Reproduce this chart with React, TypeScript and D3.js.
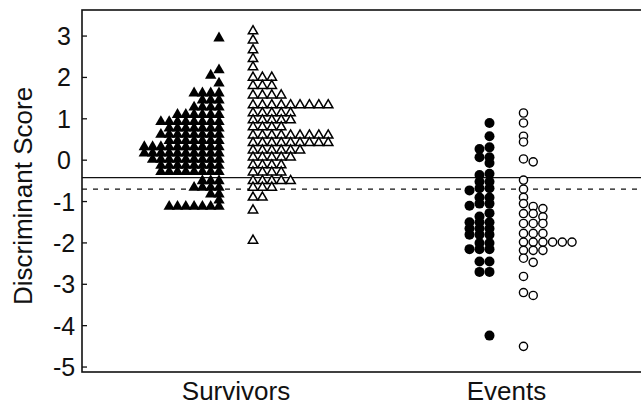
import React from "react";
import * as d3 from "d3";

const W = 641;
const H = 407;
const PLOT = { left: 82, right: 642, top: 10, bottom: 372 };

const categories = ["Survivors", "Events"];
const yTicks = [3, 2, 1, 0, -1, -2, -3, -4, -5];
const yDomain = [-5.12, 3.63];
const cutoffSolid = -0.42;
const cutoffDashed = -0.7;

// Survivors, filled triangles (stacked to the left)
const survivorsFilled = [
  2.95,
  2.18, 2.05, 1.86,
  1.62, 1.62, 1.62, 1.62,
  1.45, 1.45, 1.45,
  1.28, 1.28, 1.28, 1.28,
  1.1, 1.1, 1.1, 1.1, 1.1, 1.1,
  0.93, 0.93, 0.93, 0.93, 0.93, 0.93, 0.93, 0.93,
  0.77, 0.77, 0.77, 0.77, 0.77, 0.77, 0.77,
  0.62, 0.62, 0.62, 0.62, 0.62, 0.62, 0.62, 0.62,
  0.47, 0.47, 0.47, 0.47, 0.47, 0.47, 0.47,
  0.32, 0.32, 0.32, 0.32, 0.32, 0.32, 0.32, 0.32, 0.32, 0.32,
  0.17, 0.17, 0.17, 0.17, 0.17, 0.17, 0.17, 0.17, 0.17, 0.17,
  0.02, 0.02, 0.02, 0.02, 0.02, 0.02, 0.02, 0.02, 0.02,
  -0.13, -0.13, -0.13, -0.13, -0.13, -0.13, -0.13, -0.13,
  -0.28, -0.28, -0.28, -0.28, -0.28, -0.28, -0.28, -0.28,
  -0.5, -0.5, -0.5,
  -0.66, -0.66, -0.66, -0.66,
  -0.82, -0.82,
  -0.97,
  -1.12, -1.12, -1.12, -1.12, -1.12, -1.12, -1.12,
];

// Survivors, open triangles (stacked to the right)
const survivorsOpen = [
  3.12, 2.9, 2.66, 2.45, 2.25,
  2.0, 2.0, 2.0,
  1.8, 1.8, 1.8,
  1.57, 1.57, 1.57, 1.57,
  1.33, 1.33, 1.33, 1.33, 1.33, 1.33, 1.33, 1.33, 1.33,
  1.14, 1.14, 1.14, 1.14, 1.14,
  0.97, 0.97, 0.97, 0.97, 0.97,
  0.8, 0.8, 0.8, 0.8,
  0.6, 0.6, 0.6, 0.6, 0.6, 0.6, 0.6, 0.6, 0.6,
  0.42, 0.42, 0.42, 0.42, 0.42, 0.42, 0.42, 0.42, 0.42,
  0.24, 0.24, 0.24, 0.24, 0.24, 0.24,
  0.07, 0.07, 0.07, 0.07, 0.07,
  -0.12, -0.12, -0.12, -0.12,
  -0.29, -0.29, -0.29, -0.29,
  -0.5, -0.5, -0.5, -0.5, -0.5,
  -0.66, -0.66, -0.66,
  -0.9, -0.9,
  -1.21,
  -1.94,
];

// Events, filled circles (stacked to the left)
const eventsFilled = [
  0.9, 0.58, 0.31, 0.27, 0.07, 0.07, -0.07,
  -0.33, -0.36, -0.52, -0.52,
  -0.68, -0.68, -0.73,
  -0.9, -0.9,
  -1.05, -1.05, -1.1,
  -1.28, -1.36,
  -1.5, -1.5, -1.5,
  -1.65, -1.65, -1.65,
  -1.8, -1.8, -1.8,
  -2.0, -2.0,
  -2.15, -2.15, -2.15,
  -2.45, -2.45,
  -2.7, -2.7,
  -4.24,
];

// Events, open circles (stacked to the right)
const eventsOpen = [
  1.14, 0.9, 0.58, 0.44, 0.03, -0.04,
  -0.48, -0.7, -0.9,
  -1.05, -1.12, -1.17,
  -1.29, -1.29, -1.37,
  -1.53, -1.53, -1.53,
  -1.77, -1.77, -1.77,
  -1.98, -1.98, -1.98, -1.98, -1.98, -1.98,
  -2.18, -2.18, -2.18,
  -2.37, -2.47,
  -2.81, -3.2, -3.27,
  -4.5,
];

const FONT = "'Liberation Sans', Arial, Helvetica, sans-serif";

type Placed = { v: number; py: number; k: number };

function stack(values: number[], y: (v: number) => number, sep: number): Placed[] {
  const sorted = [...values].sort((a, b) => b - a);
  const cols: number[][] = [];
  return sorted.map((v) => {
    const py = y(v);
    let k = 0;
    while (cols[k] && cols[k].some((q) => Math.abs(q - py) < sep)) k++;
    if (!cols[k]) cols[k] = [];
    cols[k].push(py);
    return { v, py, k };
  });
}

export default function App() {
  const y = d3.scaleLinear().domain(yDomain).range([PLOT.bottom, PLOT.top]);
  const x = d3.scalePoint<string>().domain(categories).range([236, 506.5]);

  const triFilled = d3.symbol().type(d3.symbolTriangle).size(56)() as string;
  const triOpen = d3.symbol().type(d3.symbolTriangle).size(38)() as string;

  const groups = [
    { values: survivorsFilled, base: x("Survivors")! - 17, dir: -1, step: 8.3, kind: "triF" },
    { values: survivorsOpen, base: x("Survivors")! + 17, dir: 1, step: 9.4, kind: "triO" },
    { values: eventsFilled, base: x("Events")! - 17, dir: -1, step: 10, kind: "cirF" },
    { values: eventsOpen, base: x("Events")! + 17, dir: 1, step: 9.7, kind: "cirO" },
  ];

  return (
    <svg width={W} height={H} style={{ display: "block", position: "absolute", left: 0, top: 0, background: "#fff" }}>
      <style>{`body{margin:0;background:#fff}`}</style>
      <rect x={0} y={0} width={W} height={H} fill="#fff" />
      {/* frame */}
      <rect
        x={PLOT.left}
        y={PLOT.top}
        width={PLOT.right - PLOT.left}
        height={PLOT.bottom - PLOT.top}
        fill="none"
        stroke="#111"
        strokeWidth={1.6}
      />
      {/* cutoff lines */}
      <line x1={PLOT.left} x2={PLOT.right} y1={y(cutoffSolid)} y2={y(cutoffSolid)} stroke="#111" strokeWidth={1.3} />
      <line
        x1={PLOT.left}
        x2={PLOT.right}
        y1={y(cutoffDashed)}
        y2={y(cutoffDashed)}
        stroke="#111"
        strokeWidth={1.3}
        strokeDasharray="5,6"
      />
      {/* y ticks */}
      {yTicks.map((t) => (
        <g key={t}>
          <line x1={PLOT.left} x2={PLOT.left + 5} y1={y(t)} y2={y(t)} stroke="#111" strokeWidth={1.3} />
          <text x={64} y={y(t) + 9} textAnchor="middle" fontFamily={FONT} fontSize={25} fill="#111">
            {t}
          </text>
        </g>
      ))}
      <text
        transform={`translate(32, 196) rotate(-90)`}
        textAnchor="middle"
        fontFamily={FONT}
        fontSize={26}
        fill="#111"
      >
        Discriminant Score
      </text>
      {categories.map((c) => (
        <text key={c} x={x(c)} y={400} textAnchor="middle" fontFamily={FONT} fontSize={26} fill="#111">
          {c}
        </text>
      ))}
      {/* markers */}
      {groups.map((g, gi) =>
        stack(g.values, y, 5.5).map((p, i) => {
          const cx = g.base + g.dir * p.k * g.step;
          if (g.kind === "triF")
            return <path key={`${gi}-${i}`} d={triFilled} transform={`translate(${cx},${p.py})`} fill="#000" />;
          if (g.kind === "triO")
            return (
              <path
                key={`${gi}-${i}`}
                d={triOpen}
                transform={`translate(${cx},${p.py})`}
                fill="#fff"
                stroke="#000"
                strokeWidth={1.5}
              />
            );
          if (g.kind === "cirF") return <circle key={`${gi}-${i}`} cx={cx} cy={p.py} r={5} fill="#000" />;
          return <circle key={`${gi}-${i}`} cx={cx} cy={p.py} r={4.1} fill="#fff" stroke="#000" strokeWidth={1.4} />;
        })
      )}
    </svg>
  );
}
